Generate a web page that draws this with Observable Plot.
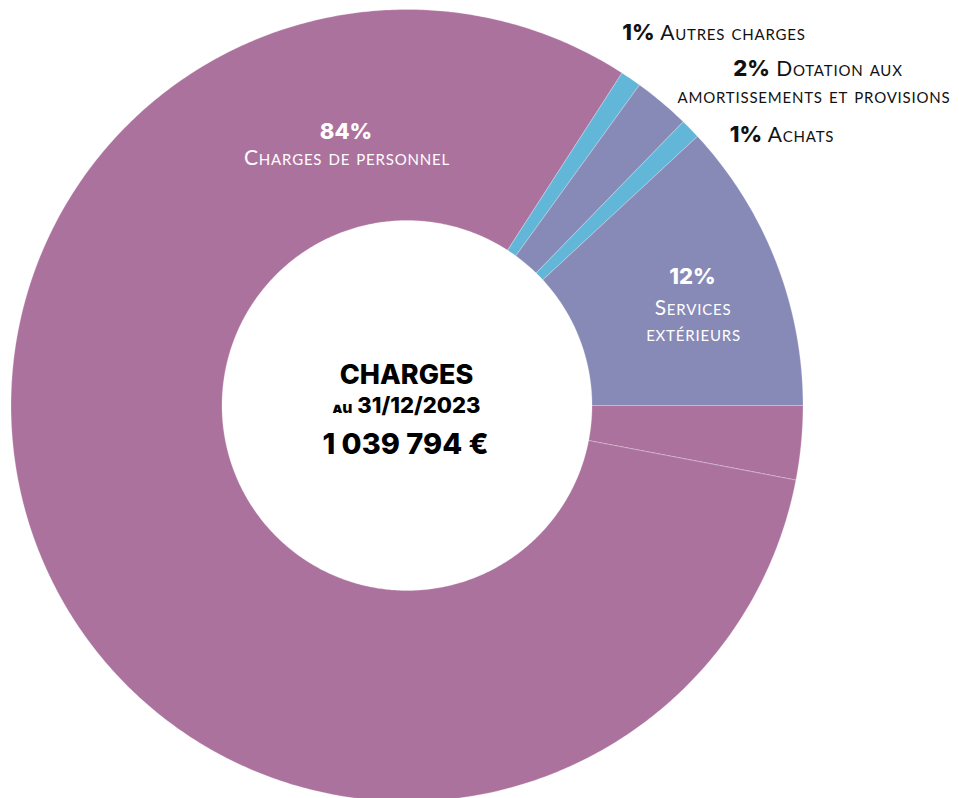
<!DOCTYPE html>
<html>
<head>
<meta charset="utf-8">
<script src="https://cdn.jsdelivr.net/npm/d3@7"></script>
<script src="https://cdn.jsdelivr.net/npm/@observablehq/plot@0.6"></script>
<style>
  html, body { margin: 0; padding: 0; background: #fff; }
  #chart svg { display: block; }
  .lbl text { letter-spacing: 0.8px; }
</style>
</head>
<body>
<div id="chart"></div>
<script>
// ---------- DATA ----------
// slices, counter-clockwise from 3 o'clock (shares, in %)
const sliceNames = ["Services extérieurs", "Achats", "Dotation aux amortissements et provisions", "Autres charges", "Charges de personnel", "Charges de personnel"];
const sliceShares = [11.9, 0.82, 2.3, 0.85, 81.1, 3.0];
const percentLabels = ["12%", "1%", "2%", "1%", "84%"];
const centerTitle = "CHARGES";
const centerDatePrefix = "au";
const centerDate = "31/12/2023";
const centerTotal = "1 039 794 €";

// ---------- STYLE / LAYOUT ----------
const W = 959, H = 798;
const CX = 406.5, CY = 405, R = 396;
const INNER = 185 / 396;
const colorMap = {
  "Services extérieurs": "#878AB6",
  "Achats": "#62B6D8",
  "Dotation aux amortissements et provisions": "#878AB6",
  "Autres charges": "#62B6D8",
  "Charges de personnel": "#AC729E"
};
const ux = px => (px - CX) / R;
const uy = py => (CY - py) / R;

// ---------- RING GEOMETRY (from the shares) ----------
const total = d3.sum(sliceShares);
const ring = [];
let acc = 0;
sliceShares.forEach((v, i) => {
  const a0 = acc / total * 2 * Math.PI;
  acc += v;
  const a1 = acc / total * 2 * Math.PI;
  const n = Math.max(4, Math.ceil((a1 - a0) / (Math.PI / 360)));
  for (let k = 0; k <= n; k++) {
    const a = a0 + (a1 - a0) * k / n;
    ring.push({slice: i, name: sliceNames[i], x: Math.cos(a), y: Math.sin(a)});
  }
  for (let k = n; k >= 0; k--) {
    const a = a0 + (a1 - a0) * k / n;
    ring.push({slice: i, name: sliceNames[i], x: INNER * Math.cos(a), y: INNER * Math.sin(a)});
  }
});

// ---------- LABELS (annotation positions) ----------
const insideLabels = [
  {t: percentLabels[4], x: 345.5, y: 138.3, kind: "pct"},
  {t: "Charges de personnel", x: 346.5, y: 164, kind: "name"},
  {t: percentLabels[0], x: 692, y: 283.3, kind: "pct"},
  {t: "Services", x: 692.5, y: 314.3, kind: "name"},
  {t: "extérieurs", x: 693, y: 340, kind: "name"}
];
const outsideLabels = [
  {t: percentLabels[3] + "|Autres charges", x: 713.5, y: 39},
  {t: percentLabels[2] + "|Dotation aux", x: 817.5, y: 75},
  {t: "amortissements et provisions", x: 813.5, y: 102.7},
  {t: percentLabels[1] + "|Achats", x: 781.5, y: 141.7}
];
const centerLines = [
  {t: centerTitle, x: 406, y: 383.5, size: 27},
  {t: centerDatePrefix + "|" + centerDate, x: 406, y: 412, size: 22},
  {t: centerTotal, x: 405, y: 453.3, size: 29}
];

const BOLD = "Inter, Lato, sans-serif";
const LIGHT = "Lato, 'Open Sans', sans-serif";
const PCT_SIZE = 22;

const chart = Plot.plot({
  width: W,
  height: H,
  margin: 0,
  x: {domain: [-CX / R, (W - CX) / R], axis: null},
  y: {domain: [-(H - CY) / R, CY / R], axis: null},
  color: {domain: Object.keys(colorMap), range: Object.values(colorMap)},
  style: {background: "#fff"},
  marks: [
    Plot.line(ring, {x: "x", y: "y", z: "slice", fill: "name", stroke: "white", strokeOpacity: 0.35, strokeWidth: 0.7, curve: "linear-closed"}),
    Plot.text(insideLabels.filter(d => d.kind === "pct"), {x: d => ux(d.x), y: d => uy(d.y), text: "t", fill: "white", fontFamily: BOLD, fontWeight: 800, fontSize: PCT_SIZE, lineAnchor: "bottom", textAnchor: "middle"}),
    Plot.text(insideLabels.filter(d => d.kind === "name"), {x: d => ux(d.x), y: d => uy(d.y), text: "t", fill: "white", fontFamily: LIGHT, fontWeight: 400, fontSize: 21, fontVariant: "small-caps", lineAnchor: "bottom", textAnchor: "middle", className: "lbl"}),
    Plot.text(outsideLabels, {x: d => ux(d.x), y: d => uy(d.y), text: "t", fill: "#111", fontFamily: LIGHT, fontWeight: 400, fontSize: 21, fontVariant: "small-caps", lineAnchor: "bottom", textAnchor: "middle", className: "lbl"}),
    Plot.text(centerLines, {x: d => ux(d.x), y: d => uy(d.y), text: "t", fill: "#000", fontFamily: BOLD, fontWeight: 800, fontSize: d => d.size, lineAnchor: "bottom", textAnchor: "middle"})
  ]
});

// split "pct|name" lines into a bold percent and a light small-caps name
d3.select(chart).selectAll("text").each(function () {
  const el = d3.select(this);
  const t = this.textContent;
  if (!t.includes("|")) return;
  const [a, b] = t.split("|");
  el.text(null);
  if (a === centerDatePrefix) {
    el.append("tspan").attr("font-size", 16).attr("font-variant", "small-caps").text(a);
    el.append("tspan").text(" " + b);
  } else {
    el.append("tspan").attr("font-family", BOLD).attr("font-weight", 800).attr("font-size", PCT_SIZE).attr("font-variant", "normal").attr("letter-spacing", 0).text(a);
    el.append("tspan").text(" " + b);
  }
});

document.getElementById("chart").appendChild(chart);
</script>
</body>
</html>
